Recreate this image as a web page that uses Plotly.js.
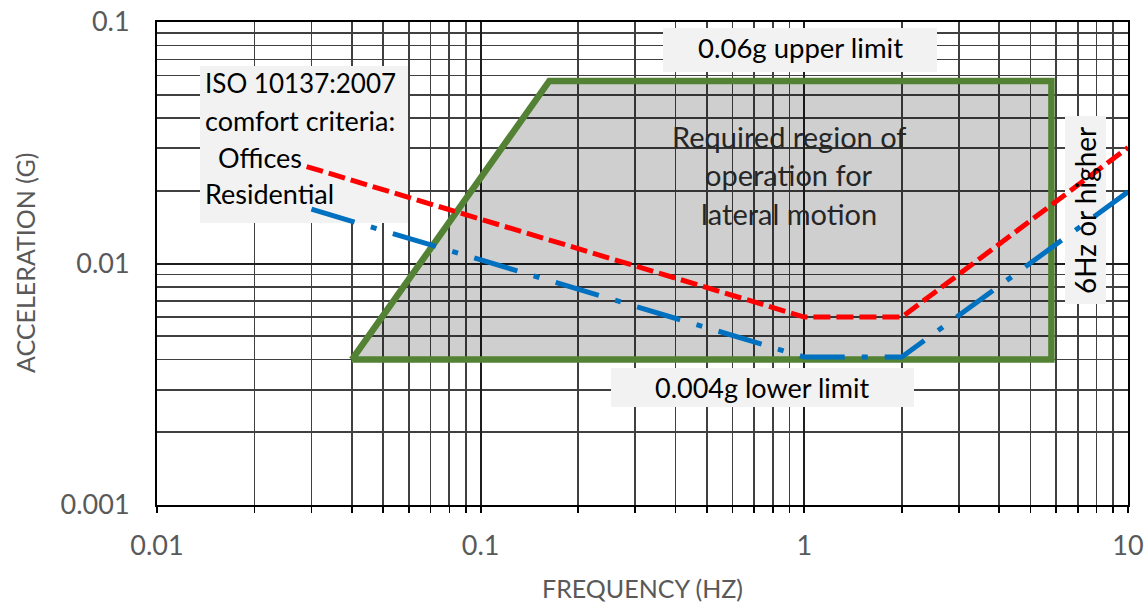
<!DOCTYPE html>
<html>
<head>
<meta charset="utf-8">
<script src="https://cdn.plot.ly/plotly-3.0.1.min.js"></script>
<style>html,body{margin:0;padding:0;background:#fff;}#chart{width:1147px;height:603px;}</style>
</head>
<body>
<div id="chart"></div>
<script>
// Required operating region (green outline, grey fill)
const regionFreq = [0.04, 0.163, 5.8, 5.8, 0.04];
const regionAcc  = [0.004, 0.057, 0.057, 0.004, 0.004];
// ISO 10137:2007 comfort criteria
const officesFreq = [0.029, 1, 2, 10];
const officesAcc  = [0.0252, 0.006, 0.006, 0.0302];
const residentialFreq = [0.03, 1, 2, 10];
const residentialAcc  = [0.0168, 0.0041, 0.0041, 0.0198];
// Axis ticks
const xTickVals = [0.01, 0.1, 1, 10];
const xTickText = ['0.01', '0.1', '1', '10'];
const yTickVals = [0.001, 0.01, 0.1];
const yTickText = ['0.001', '0.01', '0.1'];

function minorVals(decades) {
  const out = [];
  decades.forEach(d => { for (let k = 2; k <= 9; k++) out.push(d * k); });
  return out;
}

const FONT = 'Lato, "Open Sans", sans-serif';
const X_RANGE = [-2, 1];
const Y_RANGE = [-3, -1];

const traces = [
  {x: regionFreq, y: regionAcc, mode: 'lines', fill: 'toself',
   fillcolor: 'rgba(0,0,0,0.19)', line: {color: '#548235', width: 6.5},
   hoverinfo: 'skip', showlegend: false},
  {x: officesFreq, y: officesAcc, mode: 'lines', name: 'Offices',
   line: {color: '#FF0000', width: 5, dash: '17px,6px'}, showlegend: false},
  {x: residentialFreq, y: residentialAcc, mode: 'lines', name: 'Residential',
   line: {color: '#0070C0', width: 5, dash: '45px,17px,6px,17px'}, showlegend: false}
];

// fraction helpers for layout-only elements
const px = v => (v - 157) / 971;
const py = v => (505 - v) / 483;
const lx = v => Math.pow(10, X_RANGE[0] + px(v) * (X_RANGE[1] - X_RANGE[0]));
const ly = v => Math.pow(10, Y_RANGE[0] + py(v) * (Y_RANGE[1] - Y_RANGE[0]));

function box(x0, x1, y0, y1) {
  return {type: 'rect', xref: 'x', yref: 'y', layer: 'between',
    x0: lx(x0), x1: lx(x1), y0: ly(y1), y1: ly(y0),
    fillcolor: '#f2f2f2', line: {width: 0}};
}
function note(text, x, y, size, opts) {
  return Object.assign({text: text, xref: 'paper', yref: 'paper', x: px(x), y: py(y),
    showarrow: false, font: {family: FONT, size: size, color: '#000000'},
    xanchor: 'center', yanchor: 'middle'}, opts || {});
}

const layout = {
  width: 1147, height: 603,
  margin: {l: 157, r: 19, t: 22, b: 98},
  paper_bgcolor: '#ffffff', plot_bgcolor: '#ffffff',
  font: {family: FONT, size: 26, color: '#595959'},
  xaxis: {
    type: 'log', range: X_RANGE,
    tickmode: 'array', tickvals: xTickVals, ticktext: xTickText,
    ticks: 'outside', ticklen: 6, tickwidth: 2, tickcolor: '#000',
    showline: true, linecolor: '#000', linewidth: 2, mirror: true,
    showgrid: true, gridcolor: '#1e1e1e', gridwidth: 2,
    minor: {tickmode: 'array', tickvals: minorVals([0.01, 0.1, 1]),
      ticks: 'outside', ticklen: 6, tickwidth: 1.5, tickcolor: '#000',
      showgrid: true, gridcolor: '#404040', gridwidth: 1.6},
    ticklabelstandoff: 10,
    tickfont: {family: FONT, size: 27, color: '#595959'},
    title: {text: 'FREQUENCY (HZ)', font: {family: FONT, size: 25, color: '#595959'}, standoff: 20},
    zeroline: false, automargin: false
  },
  yaxis: {
    type: 'log', range: Y_RANGE,
    tickmode: 'array', tickvals: yTickVals, ticktext: yTickText,
    ticks: '',
    showline: true, linecolor: '#000', linewidth: 2, mirror: true,
    showgrid: true, gridcolor: '#1e1e1e', gridwidth: 2,
    minor: {tickmode: 'array', tickvals: minorVals([0.001, 0.01]),
      ticks: '', showgrid: true, gridcolor: '#404040', gridwidth: 1.6},
    ticklabelstandoff: 20,
    tickfont: {family: FONT, size: 27, color: '#595959'},
    zeroline: false, automargin: false
  },
  shapes: [
    box(200, 408, 66, 223),
    box(663, 937, 28, 72),
    box(611, 914, 368, 407),
    box(1065, 1106, 116, 304)
  ],
  annotations: [
    note('ACCELERATION (G)', 25, 263, 25, {textangle: -90,
      font: {family: FONT, size: 25, color: '#595959'}}),
    note('ISO 10137:2007', 203, 83, 26, {xanchor: 'left'}),
    note('comfort criteria:', 203, 120, 27, {xanchor: 'left'}),
    note('Offices', 216, 157, 27, {xanchor: 'left'}),
    note('Residential', 203, 193, 27, {xanchor: 'left'}),
    note('0.06g upper limit', 800, 48, 27.5),
    note('Required region of', 789, 136, 29, {font: {family: FONT, size: 29, color: '#262626'}}),
    note('operation for', 789, 174, 29, {font: {family: FONT, size: 29, color: '#262626'}}),
    note('lateral motion', 789, 213, 29, {font: {family: FONT, size: 29, color: '#262626'}}),
    note('0.004g lower limit', 762, 387, 27),
    note('6Hz or higher', 1085, 211, 28, {textangle: -90})
  ],
  showlegend: false
};

Plotly.newPlot('chart', traces, layout, {staticPlot: true, displayModeBar: false});
</script>
</body>
</html>
